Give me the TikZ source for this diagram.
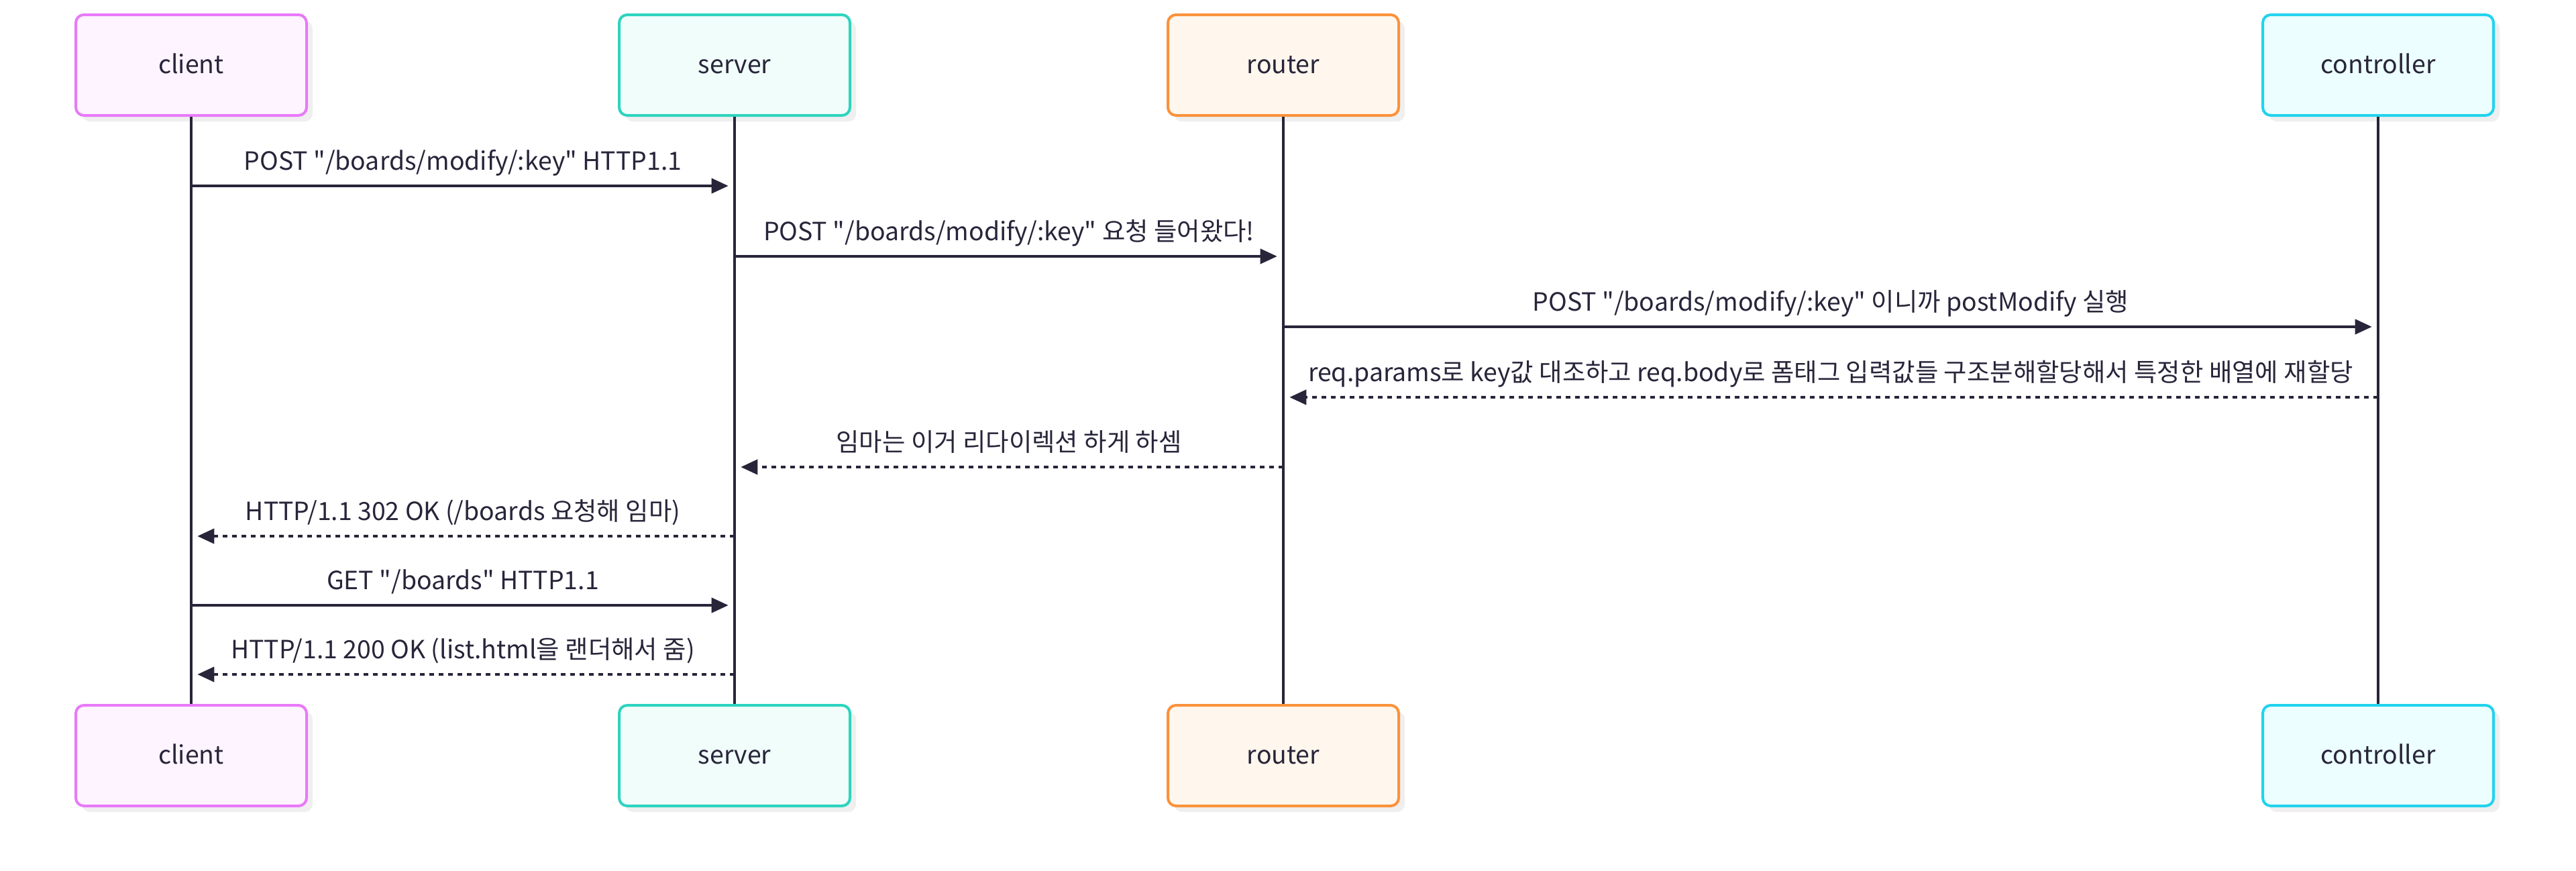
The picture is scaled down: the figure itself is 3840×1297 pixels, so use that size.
\documentclass[tikz,border=0pt]{standalone}
\usepackage{fontspec}
\newfontfamily\kfont{Noto Sans CJK KR}
\usetikzlibrary{arrows.meta,shadows}
\definecolor{ink}{HTML}{28253A}
\definecolor{shadowc}{HTML}{EFEFEF}
\definecolor{cliB}{HTML}{E879F9}\definecolor{cliF}{HTML}{FDF4FF}
\definecolor{srvB}{HTML}{2DD4BF}\definecolor{srvF}{HTML}{F0FDFA}
\definecolor{rtrB}{HTML}{FB923C}\definecolor{rtrF}{HTML}{FFF7ED}
\definecolor{ctlB}{HTML}{22D3EE}\definecolor{ctlF}{HTML}{ECFEFF}
\tikzset{
  actorbox/.style 2 args={draw=#1, fill=#2, rounded corners=3pt, line width=1pt,
    minimum width=86pt, minimum height=37.5pt, inner sep=0pt, text=ink,
    text height=6pt, text depth=0pt,
    general shadow={fill=shadowc, shadow xshift=2.3pt, shadow yshift=-2.3pt}},
  lifeline/.style={draw=ink, line width=0.9pt},
  msg/.style={draw=ink, line width=1.1pt, -{Triangle[length=6.3pt,width=5.5pt]}, shorten >=2.3pt},
  reply/.style={msg, dash pattern=on 1.75pt off 1.75pt},
  lbl/.style={midway, anchor=base, yshift=5.8pt, text=ink, inner sep=0pt}
}
\begin{document}
\begin{tikzpicture}[x=0.25pt,y=-0.25pt,font=\kfont\fontsize{9.35}{11}\selectfont]
\useasboundingbox (0,0) rectangle (3840,1297);
% actors
\node[actorbox={cliB}{cliF}] (cT) at (285,97) {client};
\node[actorbox={srvB}{srvF}] (sT) at (1095,97) {server};
\node[actorbox={rtrB}{rtrF}] (rT) at (1913,97) {router};
\node[actorbox={ctlB}{ctlF}] (kT) at (3545,97) {controller};
\node[actorbox={cliB}{cliF}] (cB) at (285,1126) {client};
\node[actorbox={srvB}{srvF}] (sB) at (1095,1126) {server};
\node[actorbox={rtrB}{rtrF}] (rB) at (1913,1126) {router};
\node[actorbox={ctlB}{ctlF}] (kB) at (3545,1126) {controller};
% lifelines
\draw[lifeline] (cT) -- (cB);
\draw[lifeline] (sT) -- (sB);
\draw[lifeline] (rT) -- (rB);
\draw[lifeline] (kT) -- (kB);
% message anchor points
\coordinate (c1) at (cT |- 0,277);  \coordinate (s1) at (sT |- 0,277);
\coordinate (s2) at (sT |- 0,382);  \coordinate (r2) at (rT |- 0,382);
\coordinate (r3) at (rT |- 0,487);  \coordinate (k3) at (kT |- 0,487);
\coordinate (k4) at (kT |- 0,592);  \coordinate (r4) at (rT |- 0,592);
\coordinate (r5) at (rT |- 0,696);  \coordinate (s5) at (sT |- 0,696);
\coordinate (s6) at (sT |- 0,799);  \coordinate (c6) at (cT |- 0,799);
\coordinate (c7) at (cT |- 0,902);  \coordinate (s7) at (sT |- 0,902);
\coordinate (s8) at (sT |- 0,1005); \coordinate (c8) at (cT |- 0,1005);
% messages
\draw[msg] (c1) -- node[lbl] {POST "/boards/modify/:key" HTTP1.1} (s1);
\draw[msg] (s2) -- node[lbl] {POST "/boards/modify/:key" 요청 들어왔다!} (r2);
\draw[msg] (r3) -- node[lbl] {POST "/boards/modify/:key" 이니까 postModify 실행} (k3);
\draw[reply] (k4) -- node[lbl] {req.params로 key값 대조하고 req.body로 폼태그 입력값들 구조분해할당해서 특정한 배열에 재할당} (r4);
\draw[reply] (r5) -- node[lbl] {임마는 이거 리다이렉션 하게 하셈} (s5);
\draw[reply] (s6) -- node[lbl] {HTTP/1.1 302 OK (/boards 요청해 임마)} (c6);
\draw[msg] (c7) -- node[lbl] {GET "/boards" HTTP1.1} (s7);
\draw[reply] (s8) -- node[lbl] {HTTP/1.1 200 OK (list.html을 랜더해서 줌)} (c8);
\end{tikzpicture}
\end{document}
